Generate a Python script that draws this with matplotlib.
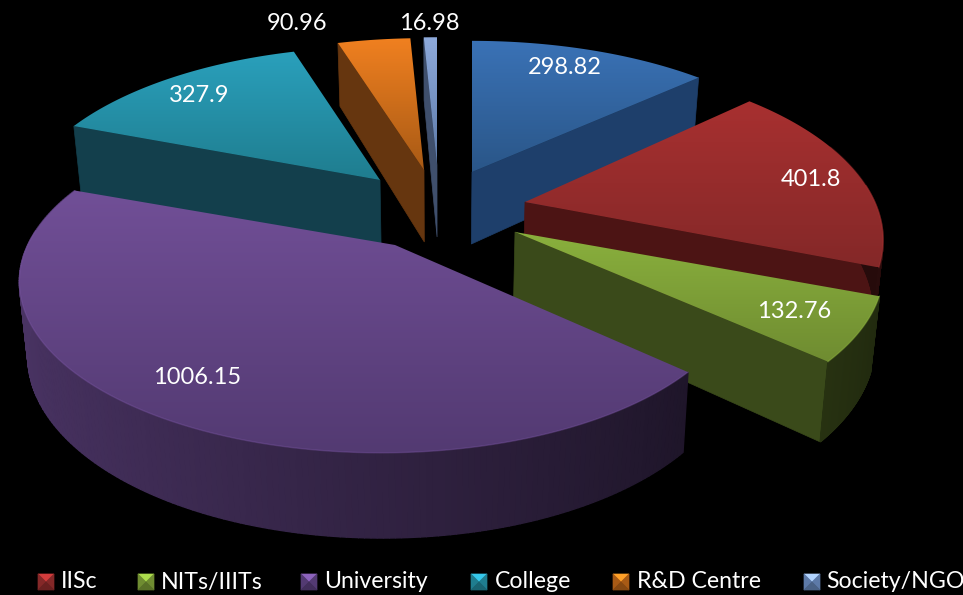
import numpy as np
import matplotlib
matplotlib.use('Agg')
import matplotlib.pyplot as plt
from matplotlib.colors import LinearSegmentedColormap, to_rgb
from matplotlib.patches import Polygon

plt.rcParams['font.family'] = ['Lato', 'DejaVu Sans']

# clockwise from 12 o'clock, same order as the source sheet
names = ['Other', 'IISc', 'NITs/IIITs', 'University', 'College', 'R&D Centre', 'Society/NGO']
values = [298.82, 401.8, 132.76, 1006.15, 327.9, 90.96, 16.98]
value_labels = ['298.82', '401.8', '132.76', '1006.15', '327.9', '90.96', '16.98']

# layout of the exploded slices (pixels), one per slice
apex_x = [472, 525, 515, 395, 380, 424, 437]
apex_y = [172, 202, 232, 245, 180, 170, 165]
rx_scale = [1.03, 1.02, 1.05, 1.03, 1.03, 1.03, 1.0]
ry_scale = [0.965, 1.03, 1.01, 0.99, 0.98, 0.97, 0.94]
rim_dx = [0, 0, 0, -14, 0, 0, 0]
label_x = [565, 811, 794, 197, 199, 297, 429]
label_y = [68, 180, 311, 377, 95, 23, 23]

top_light = ['#3a72b6', '#a83030', '#8ab03d', '#714f97', '#2aa0bc', '#f08020', '#8eaadb']
top_dark = ['#2a5688', '#842828', '#6f8c31', '#533a72', '#1f7d8f', '#a85a15', '#5d7aa8']
face_cols = ['#1e3f6b', '#4c1414', '#3a4a1a', '#2a1d40', '#133f4c', '#66360f', '#3f4f6c']

legend_idx = [1, 2, 3, 4, 5, 6]
legend_box_x = [38, 138, 301, 471, 613, 804]
legend_text_x = [61, 161, 324, 495, 637, 826]

RX, RY, P = 343, 165, 0.214
DEPTH = 72
W, H = 963, 595


def rim(i, theta):
    s, c = np.sin(theta), np.cos(theta)
    w = 1 + P * c
    return apex_x[i] + rim_dx[i] + RX * rx_scale[i] * s / w, apex_y[i] - RY * ry_scale[i] * c / w, w


def lower(x, y, w):
    return 440 + (x - 440) * 0.98, y + DEPTH / w ** 0.7


fig = plt.figure(figsize=(W / 100, H / 100), facecolor='black')
ax = fig.add_axes([0, 0, 1, 1])
ax.set_facecolor('black')

angles = np.cumsum([0] + values) / sum(values) * 2 * np.pi
z = 1


def add_face(pts, col, lw=0.5):
    global z
    ax.add_patch(Polygon(pts, closed=True, fc=col, ec=col, lw=lw, zorder=z))
    z += 1


for i in [6, 5, 4, 0, 1, 2, 3]:
    start, end = angles[i], angles[i + 1]
    thetas = np.linspace(start, end, 200)
    xs, ys, ws = rim(i, thetas)
    ax0, ay0 = apex_x[i], apex_y[i]
    lx0, ly0 = lower(ax0, ay0, 1.0)

    # cut faces towards the viewer
    if np.sin(start) < 0:
        lx, ly = lower(xs[0], ys[0], ws[0])
        add_face([(ax0, ay0), (xs[0], ys[0]), (lx, ly), (lx0, ly0)], face_cols[i])
    if np.sin(end) > 0:
        lx, ly = lower(xs[-1], ys[-1], ws[-1])
        add_face([(ax0, ay0), (xs[-1], ys[-1]), (lx, ly), (lx0, ly0)], face_cols[i])

    # outer wall as thin strips, shaded by angle
    base = (np.array(to_rgb(top_light[i])) + np.array(to_rgb(top_dark[i]))) * 0.25
    lxs, lys = lower(xs, ys, ws)
    for k in range(len(thetas) - 1):
        if np.cos(thetas[k]) > 0.35:
            continue
        col = np.clip(base * (1 - 0.5 * np.sin(thetas[k])), 0, 1)
        add_face([(xs[k], ys[k]), (xs[k + 1], ys[k + 1]), (lxs[k + 1], lys[k + 1]), (lxs[k], lys[k])], col, lw=1.0)

    # top with a vertical gradient
    outline = [(ax0, ay0)] + list(zip(xs, ys))
    patch = Polygon(outline, closed=True, fc='none', ec='none', zorder=z)
    ax.add_patch(patch)
    px = [p[0] for p in outline]
    py = [p[1] for p in outline]
    cmap = LinearSegmentedColormap.from_list('top%d' % i, [top_light[i], top_dark[i]])
    im = ax.imshow(np.linspace(0, 1, 128).reshape(-1, 1), cmap=cmap, aspect='auto',
                   extent=(min(px), max(px), max(py), min(py)), zorder=z)
    im.set_clip_path(patch)
    z += 1

    # soft bevel along the front rim
    front = np.cos(thetas) < 0.1
    if front.any():
        rim_col = np.clip(np.array(to_rgb(top_light[i])) * 1.15, 0, 1)
        ax.plot(xs[front], ys[front], color=rim_col, lw=1.0, alpha=0.35, zorder=z)
        z += 1

z += 1
for i in range(len(values)):
    ax.text(label_x[i], label_y[i], value_labels[i], color='white', fontsize=17,
            ha='center', va='center', zorder=z)

# legend, blue slice has no entry in the reference
box = 16
by = 574
for n, i in enumerate(legend_idx):
    x0 = legend_box_x[n]
    cx, cy = x0 + box / 2, by + box / 2
    c0 = np.array(to_rgb(top_light[i]))
    c1 = np.array(to_rgb(top_dark[i]))
    tl, tr = (x0, by), (x0 + box, by)
    bl, br = (x0, by + box), (x0 + box, by + box)
    add_face([tl, tr, (cx, cy)], np.clip(c0 * 1.25, 0, 1))
    add_face([tl, bl, (cx, cy)], c1)
    add_face([tr, br, (cx, cy)], c1)
    add_face([bl, br, (cx, cy)], c1 * 0.8)
    ax.text(legend_text_x[n], by + 8, names[i], color='white', fontsize=16.7,
            ha='left', va='center', zorder=z + 500)

ax.set_xlim(0, W)
ax.set_ylim(H, 0)
ax.axis('off')
fig.savefig('out.png', dpi=100, facecolor='black')
